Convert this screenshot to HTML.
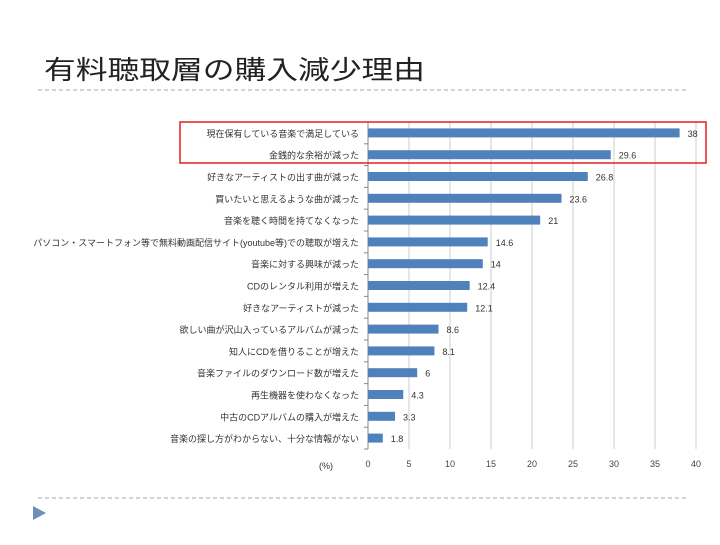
<!DOCTYPE html>
<html><head><meta charset="utf-8"><style>
body{margin:0;width:720px;height:540px;background:#fff;overflow:hidden;font-family:"Liberation Sans","Noto Sans CJK JP",sans-serif;}
svg text{font-family:"Liberation Sans","Noto Sans CJK JP",sans-serif;}
</style></head><body>
<svg id="s" width="720" height="540">
<text x="44" y="79" font-size="26" textLength="381" lengthAdjust="spacingAndGlyphs" fill="#222">有料聴取層の購入減少理由</text>
<line x1="38" y1="90" x2="686" y2="90" stroke="#aaa" stroke-dasharray="4,3"/>
<line x1="38" y1="498" x2="686" y2="498" stroke="#aaa" stroke-dasharray="4,3"/>
<polygon points="33,506 33,520 46,513" fill="#6f8fb8"/>
<g id="chart"></g>
</svg>
<script>
const categories=["現在保有している音楽で満足している","金銭的な余裕が減った","好きなアーティストの出す曲が減った","買いたいと思えるような曲が減った","音楽を聴く時間を持てなくなった","パソコン・スマートフォン等で無料動画配信サイト(youtube等)での聴取が増えた","音楽に対する興味が減った","CDのレンタル利用が増えた","好きなアーティストが減った","欲しい曲が沢山入っているアルバムが減った","知人にCDを借りることが増えた","音楽ファイルのダウンロード数が増えた","再生機器を使わなくなった","中古のCDアルバムの購入が増えた","音楽の探し方がわからない、十分な情報がない"];
const values=[38,29.6,26.8,23.6,21,14.6,14,12.4,12.1,8.6,8.1,6,4.3,3.3,1.8];
const ticks=[0,5,10,15,20,25,30,35,40];
const NS="http://www.w3.org/2000/svg",g=document.getElementById('chart');
const x0=368,x1=696,yTop=122,yBot=449,xmax=40;
const X=v=>x0+(x1-x0)*v/xmax;
const step=(yBot-yTop)/categories.length;
const Y=i=>yTop+step*(i+0.5);
function mk(t,a){const e=document.createElementNS(NS,t);for(const k in a)e.setAttribute(k,a[k]);g.appendChild(e);return e;}
ticks.forEach(t=>{
 const l=mk('line',{x1:X(t),x2:X(t),y1:yTop,y2:yBot,stroke:t===0?'#888':'#ccc'});
 
 
 const tx=mk('text',{x:X(t),y:467,'font-size':9,'text-anchor':'middle',fill:'#444'});tx.textContent=t;
 
 
});
mk('line',{x1:x0-4,x2:x0,y1:yBot,y2:yBot,stroke:'#888'});
categories.forEach((c,i)=>{
 const y=Y(i);
 const r=mk('rect',{x:x0,y:y-4.5,width:X(values[i])-x0,height:9,fill:'#4f81bd'});
 
 
 const v=mk('text',{x:X(values[i])+8,y:y+4,'font-size':9,fill:'#333'});v.textContent=values[i];
 
 
 const t=mk('text',{x:x0-9,y:y+4,'font-size':9,'text-anchor':'end',fill:'#333'});t.textContent=c;
 
 
 const tk=mk('line',{x1:x0-4,x2:x0,y1:yTop+step*i,y2:yTop+step*i,stroke:'#888'});
 
 
});
const u=mk('text',{x:326,y:469,'font-size':9,'text-anchor':'middle',fill:'#333'});u.textContent='(%)';


const box=mk('rect',{x:180,y:122,width:526,height:41,fill:'none',stroke:'#e02020','stroke-width':1.5});


</script>
</body></html>
